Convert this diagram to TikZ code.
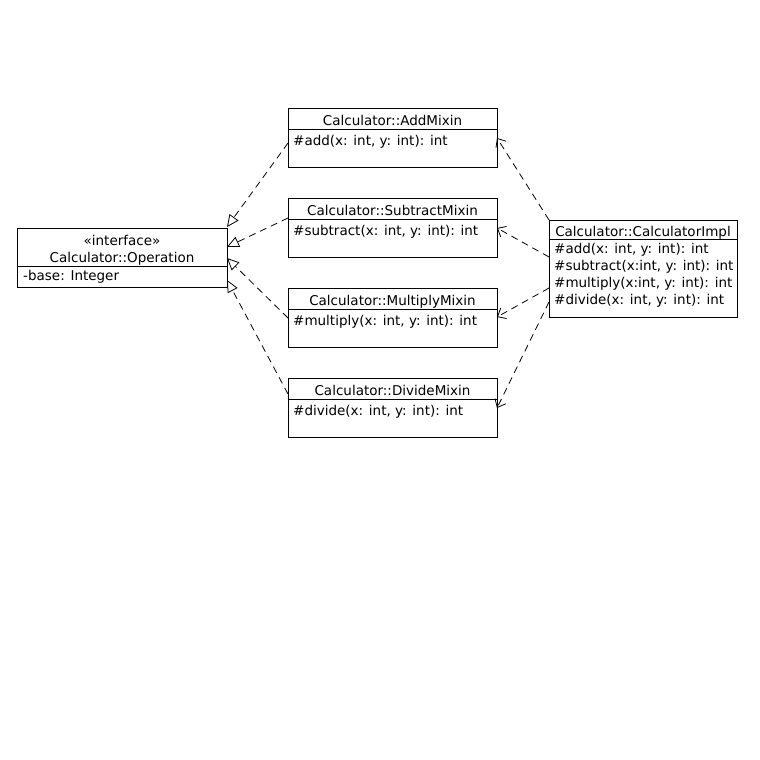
\documentclass[tikz,border=0pt]{standalone}
\usepackage{fontspec}
\setmainfont{DejaVu Sans}
\usetikzlibrary{arrows.meta,calc}
\begin{document}
\begin{tikzpicture}[x=1pt,y=-1pt,
  font=\fontsize{13.5}{17}\selectfont,
  box/.style={draw, line width=0.9pt, inner sep=0pt, outer sep=0pt, anchor=north west},
  mixbox/.style={box, minimum width=209pt, minimum height=59pt},
  opbox/.style={box, minimum width=210pt, minimum height=59pt},
  implbox/.style={box, minimum width=188pt, minimum height=97pt},
  divider/.style={line width=0.9pt},
  ttl/.style={anchor=base, inner sep=0pt},
  mem/.style={anchor=base west, inner sep=0pt},
  realize/.style={line width=0.8pt, dash pattern=on 7pt off 5pt, -{Triangle[open, length=12pt, width=11pt]}},
  depend/.style={line width=0.8pt, dash pattern=on 7pt off 5pt, -{Straight Barb[length=7pt, width=12pt]}}
]
\path[use as bounding box, fill=white] (0,0) rectangle (760,760);

% Operation interface
\node[opbox] (op) at (17,228) {};
\draw[divider] ($(op.north west)+(0,38)$) -- ($(op.north east)+(0,38)$);
\node[ttl] (opst) at ($(op.north)+(0,17)$) {«interface»};
\node[ttl] (opname) at ($(op.north)+(0,34)$) {Calculator::Operation};
\node[mem] (opattr) at ($(op.north west)+(6,52)$) {-base: Integer};

% Mixins
\node[mixbox] (add) at (288,108) {};
\draw[divider] ($(add.north west)+(0,21)$) -- ($(add.north east)+(0,21)$);
\node[ttl] (addt) at ($(add.north)+(0,17.5)$) {Calculator::AddMixin};
\node[mem] (addm) at ($(add.north west)+(5,37)$) {\#add(x: int, y: int): int};

\node[mixbox] (sub) at (288,198) {};
\draw[divider] ($(sub.north west)+(0,21)$) -- ($(sub.north east)+(0,21)$);
\node[ttl] (subt) at ($(sub.north)+(0,17.5)$) {Calculator::SubtractMixin};
\node[mem] (subm) at ($(sub.north west)+(5,37)$) {\#subtract(x: int, y: int): int};

\node[mixbox] (mul) at (288,288) {};
\draw[divider] ($(mul.north west)+(0,21)$) -- ($(mul.north east)+(0,21)$);
\node[ttl] (mult) at ($(mul.north)+(0,17.5)$) {Calculator::MultiplyMixin};
\node[mem] (mulm) at ($(mul.north west)+(5,37)$) {\#multiply(x: int, y: int): int};

\node[mixbox] (div) at (288,378) {};
\draw[divider] ($(div.north west)+(0,21)$) -- ($(div.north east)+(0,21)$);
\node[ttl] (divt) at ($(div.north)+(0,17.5)$) {Calculator::DivideMixin};
\node[mem] (divm) at ($(div.north west)+(5,37)$) {\#divide(x: int, y: int): int};

% Implementation
\node[implbox] (impl) at (549,220) {};
\draw[divider] ($(impl.north west)+(0,19)$) -- ($(impl.north east)+(0,19)$);
\node[ttl] (implt) at ($(impl.north)+(0,16)$) {Calculator::CalculatorImpl};
\node[mem] (impl1) at ($(impl.north west)+(5,33)$) {\#add(x: int, y: int): int};
\node[mem] (impl2) at ($(impl.north west)+(5,50)$) {\#subtract(x:int, y: int): int};
\node[mem] (impl3) at ($(impl.north west)+(5,67)$) {\#multiply(x:int, y: int): int};
\node[mem] (impl4) at ($(impl.north west)+(5,84)$) {\#divide(x: int, y: int): int};

% Realizations
\draw[realize] ($(add.north west)+(0,35)$) -- ($(op.north east)+(0,-1)$);
\draw[realize] ($(sub.north west)+(0,20)$) -- ($(op.north east)+(0,19)$);
\draw[realize] ($(mul.north west)+(0,30)$) -- ($(op.north east)+(0,30)$);
\draw[realize] ($(div.north west)+(0,16)$) -- ($(op.north east)+(0,52)$);

% Dependencies
\draw[depend] (impl.north west) -- ($(add.north east)+(0,30)$);
\draw[depend] ($(impl.north west)+(0,37)$) -- ($(sub.north east)+(0,30)$);
\draw[depend] ($(impl.north west)+(0,68)$) -- ($(mul.north east)+(0,29)$);
\draw[depend] ($(impl.north west)+(0,82)$) -- ($(div.north east)+(0,30)$);
\end{tikzpicture}
\end{document}
